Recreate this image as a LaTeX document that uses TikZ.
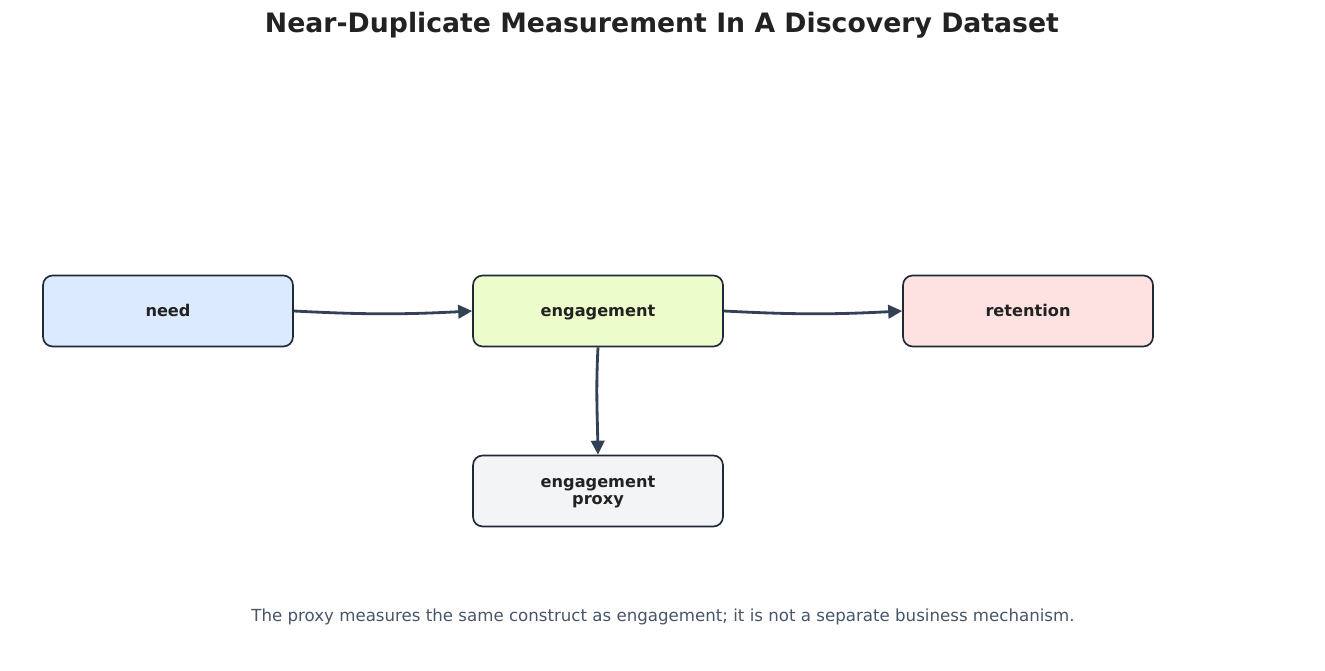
\documentclass[tikz,border=0pt]{standalone}
\usepackage{fontspec}
\setmainfont{DejaVu Sans}
\usepackage{tikz}
\usetikzlibrary{calc,shapes,positioning}
\usetikzlibrary{arrows.meta}
\tikzset{>={Triangle[width=2.7mm,length=2.8mm]}}

\definecolor{edgecol}{HTML}{334155}
\definecolor{bordercol}{HTML}{1F2937}
\definecolor{textcol}{HTML}{222222}
\definecolor{notecol}{HTML}{475569}
\definecolor{needfill}{HTML}{DBEAFE}
\definecolor{engfill}{HTML}{ECFCCB}
\definecolor{retfill}{HTML}{FEE2E2}
\definecolor{proxyfill}{HTML}{F3F4F6}

\begin{document}
\begin{tikzpicture}[x=0.02cm, y=0.02cm]
        \tikzstyle{bnode} = [draw=bordercol, line width=0.95pt, rectangle, rounded corners = 5.5pt,
                             minimum width=5cm, minimum height=1.42cm, align=center,
                             text height=7pt, text depth=1.3pt,
                             text=textcol, font=\fontsize{9.2}{9.8}\selectfont\bfseries]

        \useasboundingbox (0,0) rectangle (1325,-671);

        \node[font=\fontsize{15.2}{18}\selectfont\bfseries, text=textcol] (title) at (662,-25) {Near-Duplicate Measurement In A Discovery Dataset};

        \node[bnode, fill=needfill] (need) at (168,-311) {need};
        \node[bnode, fill=engfill] (eng) at (598,-311) {engagement};
        \node[bnode, fill=retfill] (ret) at (1028,-311) {retention};
        \node[bnode, fill=proxyfill, text height=16.8pt] (proxy) at (598,-491) {engagement\\proxy};

        \node[font=\fontsize{9.47}{12}\selectfont, text=notecol] (note) at (663,-617) {The proxy measures the same construct as engagement; it is not a separate business mechanism.};

        \path[edgecol, line width=1.6pt]
        (need.east) edge[->, out=-3, in=183] (eng.west)
        (eng.east) edge[->, out=-3, in=183] (ret.west)
        (eng.south) edge[->, out=-93, in=91] (proxy.north)
        ;
\end{tikzpicture}
\end{document}
